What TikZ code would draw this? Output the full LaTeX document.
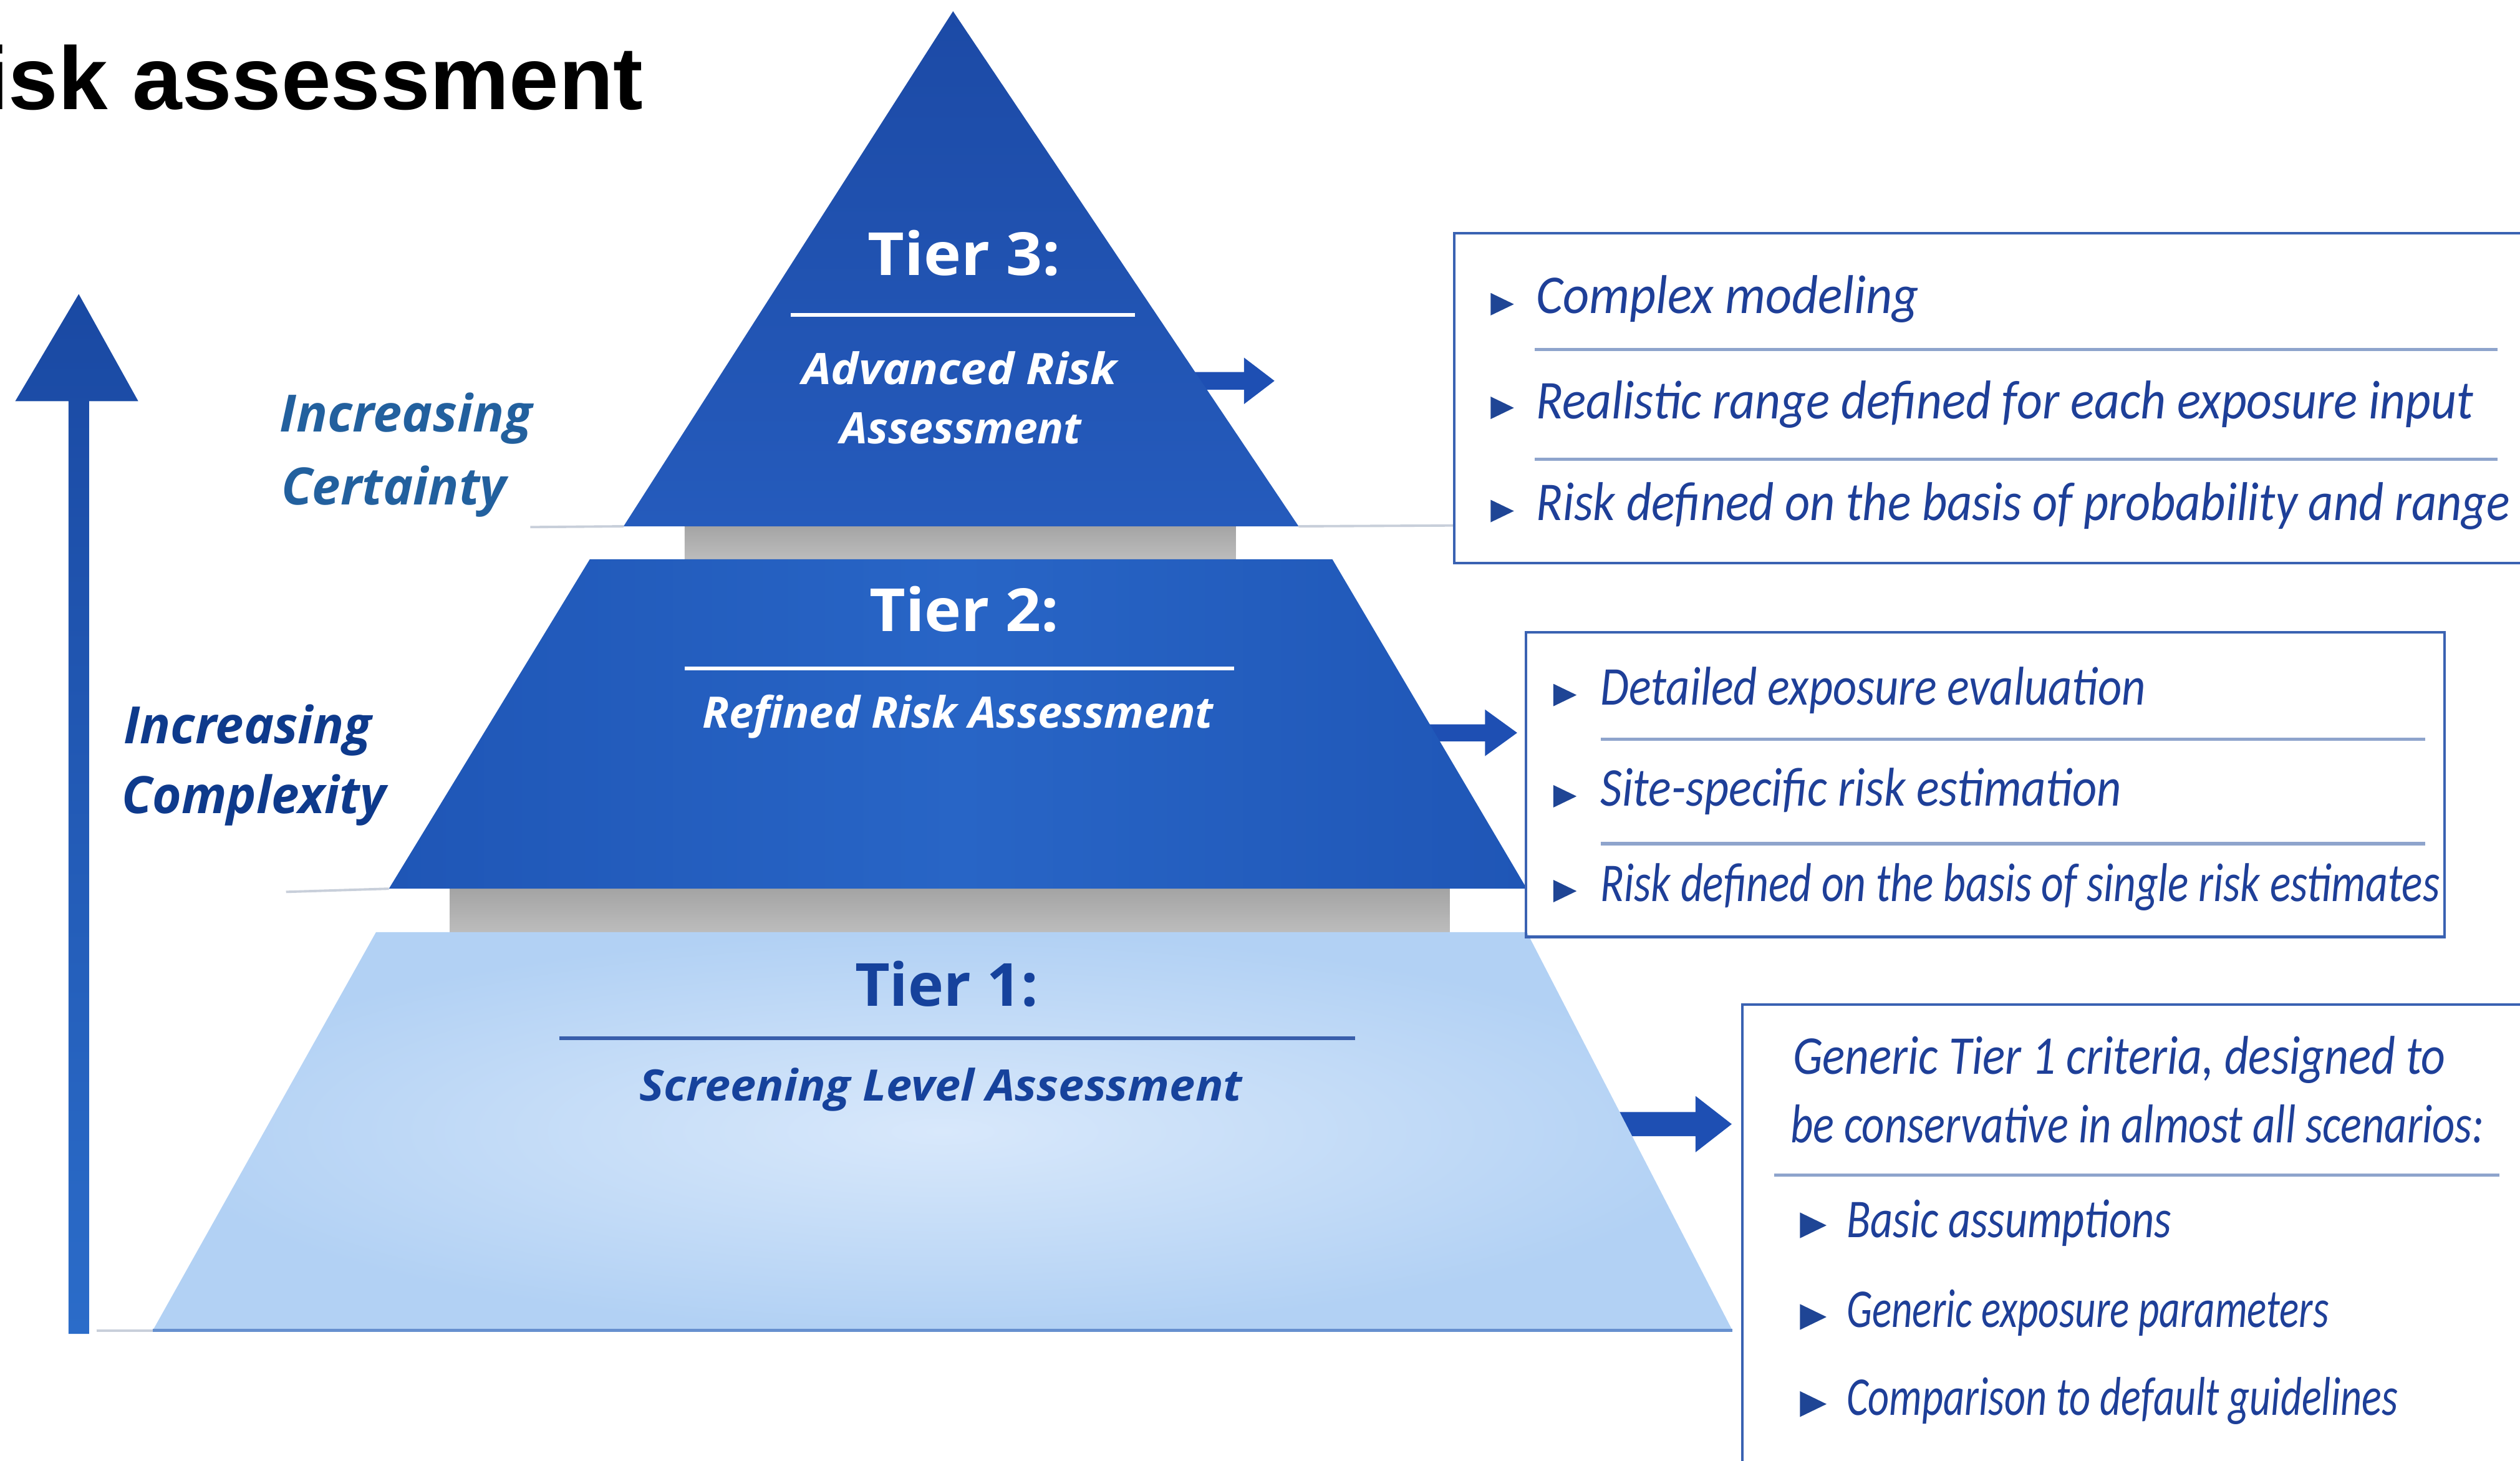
\documentclass[tikz,border=0pt]{standalone}
\usepackage{fontspec}
\usepackage{graphicx}
\usetikzlibrary{calc}

\newfontfamily\titlefont{Liberation Sans}
\newfontfamily\tierfont{Open Sans}
\newfontfamily\notefont{Carlito}

\definecolor{tthreetop}{HTML}{1C4AA6}
\definecolor{tthreebot}{HTML}{255BBC}
\definecolor{ttwoedge}{HTML}{1F56B6}
\definecolor{ttwomid}{HTML}{2865C6}
\definecolor{toneout}{HTML}{B2D1F4}
\definecolor{tonein}{HTML}{D8E8FB}
\definecolor{tonebase}{HTML}{6690CF}
\definecolor{bandtop}{HTML}{A3A3A3}
\definecolor{bandbot}{HTML}{BDBDBD}
\definecolor{faintgray}{HTML}{C8CFDA}
\definecolor{navytext}{HTML}{16429C}
\definecolor{complexnavy}{HTML}{0E3A8C}
\definecolor{certblue}{HTML}{22609E}
\definecolor{boxline}{HTML}{3A62B2}
\definecolor{boxtext}{HTML}{1E3F98}
\definecolor{sepline}{HTML}{8EA4CC}
\definecolor{arrowblue}{HTML}{1E4FB3}
\definecolor{bulletblue}{HTML}{1F4595}
\definecolor{uptop}{HTML}{1A49A3}
\definecolor{upbot}{HTML}{2B6CC9}

% stretch a text horizontally to a given width (in pt), keeping its height
\newcommand\fitw[2]{\resizebox{#1pt}{\height}{#2}}

% filled block arrow from a start coordinate to a tip coordinate
% #1 start, #2 tip, #3 shaft half width, #4 head half width, #5 head length
\newcommand\blockarrow[5]{%
  \fill[arrowblue] ($(#1)+(0,-#3)$) -- ($(#2)+(-#5,-#3)$) -- ($(#2)+(-#5,-#4)$)
    -- (#2) -- ($(#2)+(-#5,#4)$) -- ($(#2)+(-#5,#3)$) -- ($(#1)+(0,#3)$) -- cycle;}

\tikzset{
  txt/.style={inner sep=0pt, outer sep=0pt},
  header/.style={txt, anchor=base, font=\tierfont\bfseries\fontsize{37}{40}\selectfont},
  subtitle/.style={txt, anchor=base, font=\tierfont\bfseries\itshape\fontsize{27}{30}\selectfont},
  sidelabel/.style={txt, anchor=base west, font=\tierfont\bfseries\itshape\fontsize{32}{36}\selectfont},
  item/.style={txt, anchor=base west, text=boxtext, font=\notefont\itshape\fontsize{34}{38}\selectfont},
  infobox/.style={draw=boxline, line width=1.6pt},
  sep/.style={draw=sepline, line width=2pt},
  tierrule/.style={line width=2.2pt},
  faint/.style={draw=faintgray, line width=1.5pt},
  bullet/.pic={\fill[bulletblue] (-6.5,-7) -- (8,0) -- (-6.5,7) -- cycle;},
  bigbullet/.pic={\fill[bulletblue] (-7.5,-8) -- (9,0) -- (-7.5,8) -- cycle;},
}

\begin{document}
\begin{tikzpicture}[x=1pt,y=-1pt]
\useasboundingbox (0,0) rectangle (1568,909);
\clip (0,0) rectangle (1568,909);
\fill[white] (0,0) rectangle (1568,909);

% ---------- title ----------
\node[txt, anchor=base west, font=\titlefont\bfseries\fontsize{55.5}{60}\selectfont]
  (title) at (-10,68) {isk assessment};

% ---------- pyramid corners ----------
\coordinate (t3a) at (593,7);
\coordinate (t3l) at (388,327.5);
\coordinate (t3r) at (808,327.5);
\coordinate (t2tl) at (367,348);
\coordinate (t2tr) at (829,348);
\coordinate (t2br) at (950,553);
\coordinate (t2bl) at (242,553);
\coordinate (t1tl) at (234,580);
\coordinate (t1tr) at (950,580);
\coordinate (t1br) at (1078,828);
\coordinate (t1bl) at (95,828);

% faint ground lines beside each level
\draw[faint] (330,328) -- (t3l);
\draw[faint] (t3r) -- (905,327);
\draw[faint] (178,555) -- (t2bl);
\draw[faint] (60,828) -- (t1bl);

% grey spacers between the levels
\shade[top color=bandtop, bottom color=bandbot] (426,326) rectangle (769,349);
\shade[top color=bandtop, bottom color=bandbot] (280,552) rectangle (902,581);

% ---------- arrows towards the boxes (drawn under the levels) ----------
\coordinate (a3s) at (738,237);
\coordinate (a3e) at (793,237);
\coordinate (a2s) at (886,456);
\coordinate (a2e) at (944,456);
\coordinate (a1s) at (998,699.5);
\coordinate (a1e) at (1077.5,699.5);
\blockarrow{a3s}{a3e}{5.5}{14.5}{19}
\blockarrow{a2s}{a2e}{5.3}{14.5}{20}
\blockarrow{a1s}{a1e}{7.5}{17.5}{22.5}

% ---------- levels ----------
\shade[top color=tthreetop, bottom color=tthreebot] (t3a) -- (t3r) -- (t3l) -- cycle;
\shade[left color=ttwoedge, right color=ttwoedge, middle color=ttwomid]
  (t2tl) -- (t2tr) -- (t2br) -- (t2bl) -- cycle;
\shade[inner color=tonein, outer color=toneout]
  (t1tl) -- (t1tr) -- (t1br) -- (t1bl) -- cycle;
\draw[tonebase, line width=2pt] (t1bl) -- (t1br);

% Tier 3 labels
\node[header, text=white] (t3head) at (600,171.5) {\fitw{120}{Tier 3:}};
\draw[tierrule, white] (492,196) -- (706,196);
\node[subtitle, text=white] (t3suba) at (597,239.4) {\fitw{196}{Advanced Risk}};
\node[subtitle, text=white] (t3subb) at (598,276) {\fitw{150}{Assessment}};

% Tier 2 labels
\node[header, text=white] (t2head) at (600,393) {\fitw{118}{Tier 2:}};
\draw[tierrule, white] (426,416) -- (768,416);
\node[subtitle, text=white] (t2sub) at (596,453) {\fitw{318}{Refined Risk Assessment}};

% Tier 1 labels
\node[header, text=navytext] (t1head) at (589,626) {\fitw{114}{Tier 1:}};
\draw[tierrule, navytext!85!white] (348,646) -- (843,646);
\node[subtitle, text=navytext] (t1sub) at (585.5,685) {\fitw{375}{Screening Level Assessment}};

% ---------- side labels ----------
\node[sidelabel, text=certblue] (certa) at (174,268.7) {\fitw{157}{Increasing}};
\node[sidelabel, text=certblue] (certb) at (175,314) {\fitw{140}{Certainty}};
\node[sidelabel, text=complexnavy] (compa) at (77,462.6) {\fitw{154}{Increasing}};
\node[sidelabel, text=complexnavy] (compb) at (76,506) {\fitw{164}{Complexity}};

% upward arrow
\coordinate (cbot) at (49,830);
\coordinate (ctip) at (49,183);
\shade[top color=uptop, bottom color=upbot]
  ($(cbot)+(-6.4,0)$) -- ($(ctip)+(-6.4,66.6)$) -- ($(ctip)+(-39.5,66.6)$) -- (ctip)
  -- ($(ctip)+(37,66.6)$) -- ($(ctip)+(6.4,66.6)$) -- ($(cbot)+(6.4,0)$) -- cycle;

% ---------- Tier 3 box ----------
\draw[infobox] (905,145) rectangle (1600,350.5);
\pic at (934,189.3) {bullet};
\node[item] (b3a) at (956,195) {\fitw{238}{Complex modeling}};
\draw[sep] (955,217.5) -- (1554,217.5);
\pic at (934,253.8) {bullet};
\node[item] (b3b) at (956,260.6) {\fitw{583}{Realistic range defined for each exposure input}};
\draw[sep] (955,285.8) -- (1554,285.8);
\pic at (934,318) {bullet};
\node[item] (b3c) at (956,323.7) {\fitw{606}{Risk defined on the basis of probability and range}};

% ---------- Tier 2 box ----------
\draw[infobox] (949.6,393.5) rectangle (1521,583);
\pic at (973,432.5) {bullet};
\node[item] (b2a) at (996,438.5) {\fitw{339}{Detailed exposure evaluation}};
\draw[sep] (996,460) -- (1509,460);
\pic at (973,495.5) {bullet};
\node[item] (b2b) at (996,501.6) {\fitw{324}{Site-specific risk estimation}};
\draw[sep] (996,525) -- (1509,525);
\pic at (973,554.5) {bullet};
\node[item] (b2c) at (996,561) {\fitw{522}{Risk defined on the basis of single risk estimates}};

% ---------- Tier 1 box ----------
\draw[infobox] (1084,625) rectangle (1600,950);
\node[item] (b1a) at (1115.6,668.3) {\fitw{406}{Generic Tier 1 criteria, designed to}};
\node[item] (b1b) at (1114,711) {\fitw{431.6}{be conservative in almost all scenarios:}};
\draw[sep] (1104,731.3) -- (1555,731.3);
\pic at (1127.5,762.5) {bigbullet};
\node[item] (b1c) at (1149,770) {\fitw{202}{Basic assumptions}};
\pic at (1127.5,819.5) {bigbullet};
\node[item] (b1d) at (1149,826) {\fitw{300}{Generic exposure parameters}};
\pic at (1127.5,873.7) {bigbullet};
\node[item] (b1e) at (1149,880.5) {\fitw{343}{Comparison to default guidelines}};
\end{tikzpicture}
\end{document}
